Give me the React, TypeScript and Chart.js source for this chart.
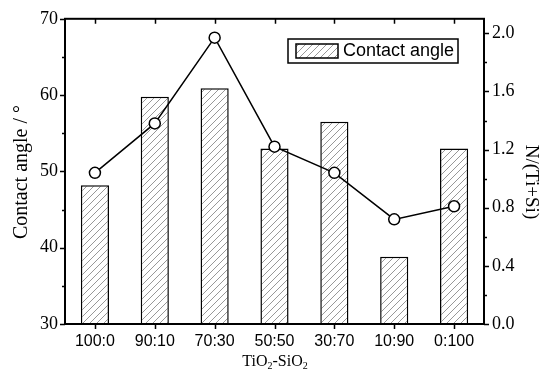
import React, { useEffect, useRef } from "react";
import { Chart, registerables } from "chart.js";

Chart.register(...registerables);

const categories = ["100:0", "90:10", "70:30", "50:50", "30:70", "10:90", "0:100"];
const contactAngle = [48.2, 59.8, 60.9, 53.0, 56.5, 38.8, 53.0];
const nRatio = [1.04, 1.38, 1.97, 1.22, 1.04, 0.72, 0.81];
const leftTicks = [30, 40, 50, 60, 70];
const rightTicks = [0, 0.4, 0.8, 1.2, 1.6, 2.0];
const legendLabel = "Contact angle";
const leftTitle = "Contact angle / °";
const rightTitle = "N/(Ti+Si)";

const SERIF = "'Liberation Serif', 'DejaVu Serif', serif";
const SANS = "'Liberation Sans', Arial, sans-serif";

function makeHatch(): CanvasPattern | string {
  const c = document.createElement("canvas");
  const s = 7;
  c.width = s;
  c.height = s;
  const g = c.getContext("2d");
  if (!g) return "#ddd";
  g.fillStyle = "#fff";
  g.fillRect(0, 0, s, s);
  g.strokeStyle = "#8c8c8c";
  g.lineWidth = 0.9;
  g.beginPath();
  g.moveTo(0, s);
  g.lineTo(s, 0);
  g.moveTo(-1, 1);
  g.lineTo(1, -1);
  g.moveTo(s - 1, s + 1);
  g.lineTo(s + 1, s - 1);
  g.stroke();
  const p = g.createPattern(c, "repeat");
  return p || "#ddd";
}

export default function App() {
  const ref = useRef<HTMLCanvasElement | null>(null);

  useEffect(() => {
    document.body.style.margin = "0";
    const canvas = ref.current;
    if (!canvas) return;
    const hatch = makeHatch();

    const decor = {
      id: "decor",
      afterDraw(chart: any) {
        const ctx = chart.ctx;
        const a = chart.chartArea;
        const x = chart.scales.x;
        const y = chart.scales.y;
        const y1 = chart.scales.y1;
        ctx.save();
        ctx.strokeStyle = "#000";
        ctx.lineWidth = 1.5;
        // ticks
        ctx.beginPath();
        for (let v = 30; v <= 70; v += 5) {
          const py = Math.round(y.getPixelForValue(v)) + 0.5;
          const len = v % 10 === 0 ? 5 : 3;
          ctx.moveTo(a.left - len, py);
          ctx.lineTo(a.left, py);
        }
        for (let i = 0; i <= 10; i++) {
          const v = i * 0.2;
          const py = Math.round(y1.getPixelForValue(v)) + 0.5;
          const len = i % 2 === 0 ? 5 : 3;
          ctx.moveTo(a.right, py);
          ctx.lineTo(a.right + len, py);
        }
        for (let i = 0; i < categories.length; i++) {
          const px = Math.round(x.getPixelForValue(i)) + 0.5;
          ctx.moveTo(px, a.bottom);
          ctx.lineTo(px, a.bottom + 5);
          ctx.moveTo(px, a.top);
          ctx.lineTo(px, a.top + 5);
        }
        ctx.stroke();
        // frame
        ctx.lineWidth = 2;
        ctx.strokeRect(a.left, a.top, a.right - a.left, a.bottom - a.top);

        // legend
        const lx = 288, ly = 39, lw = 170, lh = 24;
        ctx.fillStyle = "#fff";
        ctx.fillRect(lx, ly, lw, lh);
        ctx.lineWidth = 1.5;
        ctx.strokeRect(lx, ly, lw, lh);
        ctx.fillStyle = hatch as any;
        ctx.fillRect(296, 44, 42, 14);
        ctx.strokeRect(296, 44, 42, 14);
        ctx.fillStyle = "#000";
        ctx.font = `18px ${SANS}`;
        ctx.textAlign = "left";
        ctx.textBaseline = "middle";
        ctx.fillText(legendLabel, 343, 51.5);

        // x title TiO2-SiO2
        ctx.textBaseline = "alphabetic";
        const parts: [string, boolean][] = [["TiO", false], ["2", true], ["-SiO", false], ["2", true]];
        const big = `16px ${SERIF}`;
        const small = `10px ${SERIF}`;
        let total = 0;
        for (const [t, sub] of parts) {
          ctx.font = sub ? small : big;
          total += ctx.measureText(t).width;
        }
        let cx = 275 - total / 2;
        const base = 366;
        for (const [t, sub] of parts) {
          ctx.font = sub ? small : big;
          ctx.fillText(t, cx, sub ? base + 3 : base);
          cx += ctx.measureText(t).width;
        }

        // left title
        ctx.font = `20px ${SERIF}`;
        ctx.textAlign = "center";
        ctx.textBaseline = "middle";
        ctx.save();
        ctx.translate(22, 172);
        ctx.rotate(-Math.PI / 2);
        ctx.fillText(leftTitle, 0, 0);
        ctx.restore();
        // right title
        ctx.font = `19px ${SERIF}`;
        ctx.save();
        ctx.translate(531, 182);
        ctx.rotate(Math.PI / 2);
        ctx.fillText(rightTitle, 0, 0);
        ctx.restore();
        ctx.restore();
      },
    };

    const chart = new Chart(canvas, {
      type: "bar",
      data: {
        labels: categories,
        datasets: [
          {
            type: "line",
            label: "N/(Ti+Si)",
            data: nRatio,
            yAxisID: "y1",
            borderColor: "#000",
            borderWidth: 1.5,
            pointRadius: 5.5,
            pointBorderWidth: 1.5,
            pointBackgroundColor: "#fff",
            pointBorderColor: "#000",
            tension: 0,
            order: 0,
          } as any,
          {
            type: "bar",
            label: legendLabel,
            data: contactAngle,
            yAxisID: "y",
            backgroundColor: hatch as any,
            borderColor: "#000",
            borderWidth: 1.5,
            borderSkipped: false,
            barPercentage: 0.47,
            categoryPercentage: 1,
            order: 1,
          },
        ],
      },
      options: {
        responsive: false,
        animation: false,
        devicePixelRatio: 1,
        layout: { padding: { top: 18, left: 0, right: 0, bottom: 0 } },
        plugins: { legend: { display: false }, tooltip: { enabled: false } },
        scales: {
          x: {
            type: "category",
            position: "bottom",
            grid: { display: false, drawTicks: false },
            border: { display: false },
            ticks: { color: "#000", font: { family: SANS, size: 16 }, padding: 8, maxRotation: 0 },
            afterFit: (s: any) => { s.height = 48; },
          },
          y: {
            type: "linear",
            position: "left",
            min: 30,
            max: 70,
            afterBuildTicks: (s: any) => { s.ticks = leftTicks.map((v) => ({ value: v })); },
            grid: { display: false, drawTicks: false },
            border: { display: false },
            ticks: { color: "#000", font: { family: SERIF, size: 18 }, padding: 7 },
            afterFit: (s: any) => { s.width = 65; },
          },
          y1: {
            type: "linear",
            position: "right",
            min: 0,
            max: 2.1,
            afterBuildTicks: (s: any) => { s.ticks = rightTicks.map((v) => ({ value: v })); },
            grid: { display: false, drawTicks: false },
            border: { display: false },
            ticks: {
              color: "#000",
              font: { family: SERIF, size: 18 },
              padding: 8,
              callback: (v: any) => Number(v).toFixed(1),
            },
            afterFit: (s: any) => { s.width = 58; },
          },
        },
      },
      plugins: [decor],
    } as any);
    return () => chart.destroy();
  }, []);

  return (
    <div style={{ width: 542, height: 372, background: "#fff" }}>
      <canvas ref={ref} width={542} height={372} style={{ display: "block" }} />
    </div>
  );
}
